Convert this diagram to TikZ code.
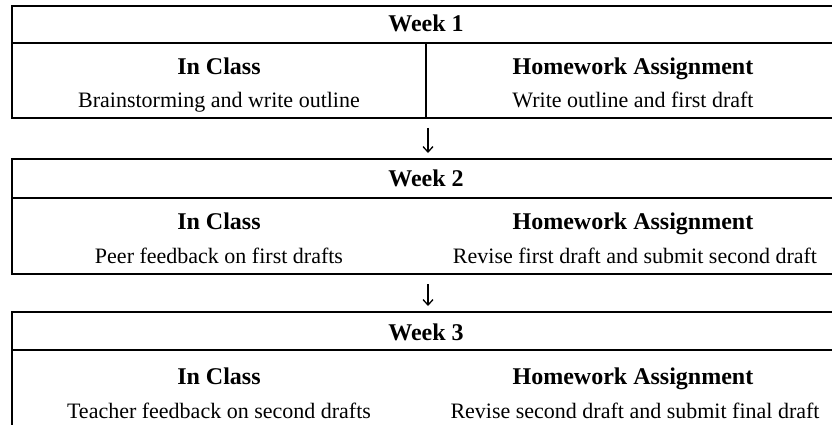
\documentclass[tikz,border=0pt]{standalone}
\usepackage{fontspec}
\setmainfont{Liberation Serif}
\usetikzlibrary{arrows.meta}
\begin{document}
\begin{tikzpicture}[x=1pt,y=-1pt,
  rule/.style={line width=2pt},
  head/.style={font=\fontsize{24}{28}\selectfont\bfseries, anchor=base, inner sep=0pt},
  body/.style={font=\fontsize{22}{26}\selectfont, anchor=base, inner sep=0pt},
  flow/.style={line width=1.3pt, -{Straight Barb[length=5.5pt,width=10pt,line width=1.3pt]}, shorten <=10pt, shorten >=6pt}]
\useasboundingbox (0,0) rectangle (832,425);
\clip (0,0) rectangle (832,425);
% box 1
\draw[rule] (845,6) -- (12,6) -- (12,118) -- (845,118);
\draw[rule] (12,43) -- (845,43);
\draw[rule] (426,43) -- (426,118);
% box 2
\draw[rule] (845,159) -- (12,159) -- (12,274) -- (845,274);
\draw[rule] (12,198) -- (845,198);
% box 3
\draw[rule] (845,312) -- (12,312) -- (12,440);
\draw[rule] (12,350) -- (845,350);
% texts
\node[head] (w1) at (426,32) {Week 1};
\node[head] (c1) at (219,75) {In Class};
\node[head] (h1) at (633,75) {Homework Assignment};
\node[body] (c1t) at (219,108) {Brainstorming and write outline};
\node[body] (h1t) at (633,108) {Write outline and first draft};
\node[head] (w2) at (426,186) {Week 2};
\node[head] (c2) at (219,229) {In Class};
\node[head] (h2) at (633,229) {Homework Assignment};
\node[body] (c2t) at (219,263) {Peer feedback on first drafts};
\node[body] (h2t) at (635,263) {Revise first draft and submit second draft};
\node[head] (w3) at (426,340) {Week 3};
\node[head] (c3) at (219,384) {In Class};
\node[head] (h3) at (633,384) {Homework Assignment};
\node[body] (c3t) at (219,418) {Teacher feedback on second drafts};
\node[body] (h3t) at (635,418) {Revise second draft and submit final draft};
% connectors
\coordinate (b1bot) at (428,118);
\coordinate (b2top) at (428,159);
\coordinate (b2bot) at (428,274);
\coordinate (b3top) at (428,312);
\draw[flow] (b1bot) -- (b2top);
\draw[flow] (b2bot) -- (b3top);
\end{tikzpicture}
\end{document}
